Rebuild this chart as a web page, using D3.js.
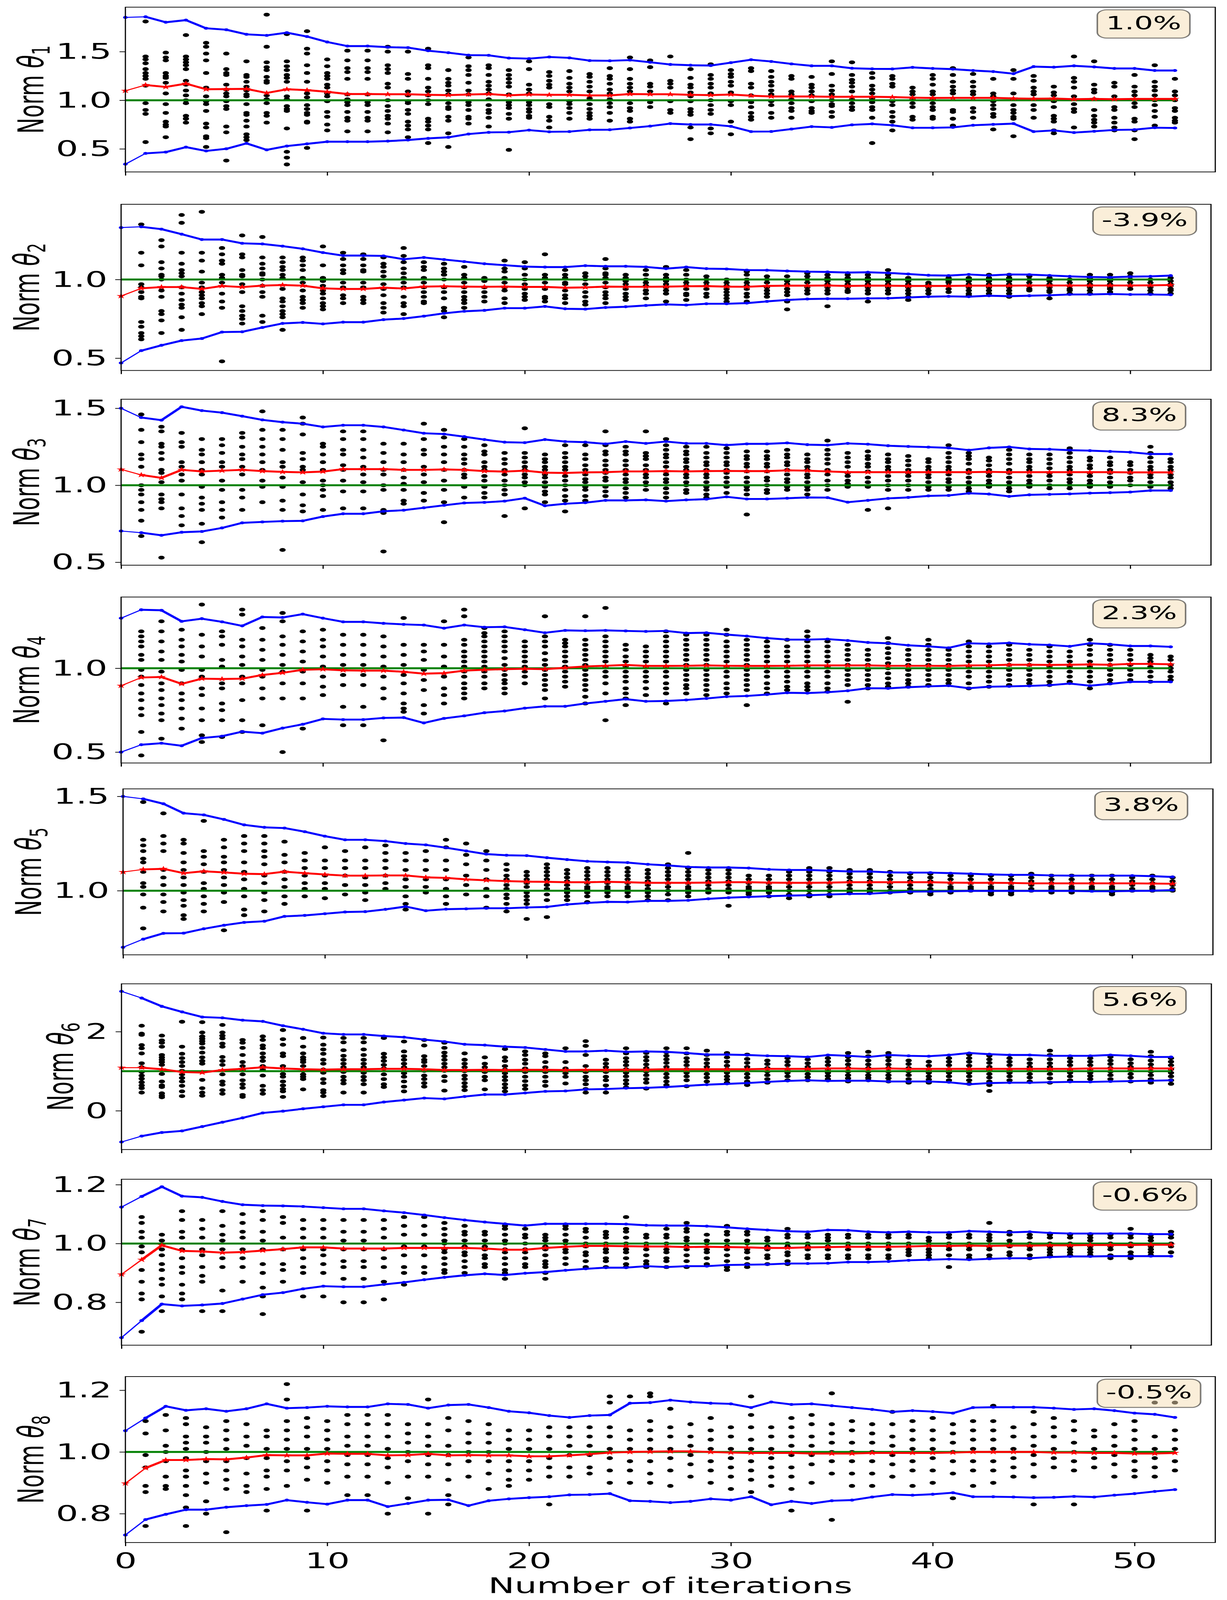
<!DOCTYPE html>
<html>
<head>
<meta charset="utf-8">
<script src="https://cdn.jsdelivr.net/npm/d3@7"></script>
<style>
  html, body { margin: 0; background: #fff; overflow: hidden; }
  svg { display: block; width: 100vw; height: 100vh; }
</style>
</head>
<body>
<svg id="canvas"></svg>
<script>
'use strict';

/* x categories: iteration number of every band point (dots start at 1) */
const iterations = d3.range(0, 53);
const xTicks = [0, 10, 20, 30, 40, 50];
const xTitle = 'Number of iterations';
const badgeLabels = ['1.0%', '-3.9%', '8.3%', '2.3%', '3.8%', '5.6%', '-0.6%', '-0.5%'];
const yTicks = [[0.5, 1.0, 1.5], [0.5, 1.0], [0.5, 1.0, 1.5], [0.5, 1.0], [1.0, 1.5], [0, 2], [0.8, 1.0, 1.2], [0.8, 1.0, 1.2]];
const yFormats = ['.1f', '.1f', '.1f', '.1f', '.1f', 'd', '.1f', '.1f'];

/* theta 1 */
const upper1 = [1.852,1.858,1.802,1.824,1.740,1.725,1.678,1.667,1.695,1.655,1.599,1.557,1.557,1.546,1.541,1.509,1.489,1.464,1.462,1.434,1.428,1.445,1.436,1.408,1.406,1.413,1.391,1.368,1.360,1.357,1.387,1.417,1.399,1.374,1.354,1.354,1.329,1.323,1.322,1.338,1.327,1.320,1.306,1.295,1.273,1.346,1.340,1.354,1.343,1.327,1.327,1.306,1.306];
const lower1 = [0.343,0.454,0.467,0.518,0.479,0.501,0.557,0.490,0.529,0.552,0.574,0.574,0.574,0.580,0.591,0.608,0.619,0.653,0.670,0.672,0.693,0.676,0.678,0.696,0.697,0.715,0.734,0.760,0.751,0.751,0.732,0.678,0.679,0.704,0.729,0.721,0.747,0.757,0.743,0.717,0.717,0.721,0.743,0.752,0.760,0.678,0.690,0.668,0.681,0.695,0.698,0.718,0.715];
const mean1 = [1.098,1.157,1.137,1.171,1.113,1.115,1.117,1.075,1.113,1.104,1.087,1.064,1.064,1.062,1.062,1.056,1.053,1.059,1.064,1.051,1.059,1.056,1.056,1.050,1.050,1.064,1.062,1.062,1.056,1.053,1.059,1.047,1.039,1.039,1.039,1.036,1.036,1.036,1.033,1.027,1.024,1.025,1.025,1.025,1.019,1.016,1.018,1.011,1.014,1.011,1.014,1.014,1.014];
// samples per iteration 1..52, in hundredths
const dots1 = [
  [181,145,142,138,132,128,125,122,115,97,90,86,57],[149,144,141,128,125,123,118,107,96,87,78,75,73,62],
  [167,145,142,139,136,132,120,116,110,105,100,97,84,81,77],[159,155,148,141,128,113,104,99,96,89,76,72,63,61,52],
  [148,132,128,126,116,111,107,104,99,94,91,73,67,38],[140,126,124,119,114,110,106,104,96,87,85,79,73,65,62,59],
  [188,155,139,134,131,124,120,118,105,101,97,87,84,77],[168,140,135,131,126,123,119,104,101,94,91,89,71,47,41,34],
  [171,153,148,136,128,119,107,103,95,91,87,85,78,77,51],[142,135,128,125,122,116,113,107,104,99,88,83,75,69],
  [151,141,133,129,122,106,101,98,95,88,82,79,68],[151,141,133,129,122,106,98,95,88,82,79,68],
  [155,150,136,132,128,117,113,100,94,89,84,81,76,67],[150,127,122,109,105,99,97,90,86,78,74,70,62],
  [153,136,133,122,113,109,105,100,96,81,78,74,70,56],[131,122,118,115,110,106,97,93,91,83,79,66,52],
  [144,135,131,126,118,110,106,98,95,90,83,81,76],[136,133,126,119,115,111,107,101,95,90,87,82,73],
  [131,126,122,118,114,106,98,95,92,86,81,49],[140,132,116,111,107,98,95,91,88,84,82],
  [129,125,120,116,113,96,93,83,79,72],[130,123,117,113,109,99,96,92,87,81],
  [127,124,119,114,109,102,96,91,87,84,81],[133,125,122,117,111,107,101,97,93,87,79],
  [144,132,122,117,113,109,97,92,89,81,78],[141,134,117,114,109,98,93],
  [145,120,117,113,99,90,87],[132,123,116,113,108,104,99,91,88,85,72,60],
  [137,126,122,117,113,107,100,95,90,86,71,66],[131,127,124,119,115,108,99,95,78,65],
  [133,130,117,113,105,98,93,87,83,80],[130,124,119,115,110,106,99,95,87,82],
  [125,122,109,106,101,97,92,89,82],[124,116,113,109,105,99,92,89,87],
  [140,127,115,110,106,100,96,94,88,83],[139,126,121,118,114,109,101,97,93,90],
  [128,123,115,111,107,102,98,93,90,82,56],[125,122,117,114,99,95,88,83,78,69],
  [113,109,106,101,97,93,83,80],[126,122,116,109,106,101,97,93,90,83,81],
  [133,126,119,114,110,107,90,88,81,74],[127,119,114,109,106,92,88,82],
  [122,107,104,99,95,91,86,83,70],[131,122,107,101,95,90,87,83,81,63],
  [125,120,113,109,106,101,95,90,82],[114,108,105,99,93,84,81,78,69,66],
  [145,123,119,113,104,96,91,88,72],[140,116,111,108,101,90,84,80,77,73],
  [118,114,104,93,90,82,77,72,69],[126,114,109,105,97,93,81,78,69,60],
  [136,119,114,110,105,100,95,89,83,74],[122,109,105,100,92,89,82,79,77]
];

/* theta 2 */
const upper2 = [1.330,1.335,1.320,1.288,1.254,1.254,1.230,1.226,1.212,1.195,1.171,1.152,1.152,1.150,1.129,1.140,1.127,1.114,1.100,1.091,1.082,1.079,1.079,1.088,1.084,1.084,1.080,1.069,1.079,1.069,1.067,1.060,1.059,1.054,1.050,1.048,1.044,1.046,1.042,1.035,1.027,1.025,1.032,1.026,1.032,1.031,1.026,1.020,1.016,1.014,1.018,1.020,1.025];
const lower2 = [0.470,0.548,0.582,0.612,0.625,0.666,0.668,0.695,0.721,0.727,0.718,0.729,0.729,0.745,0.752,0.767,0.785,0.798,0.804,0.818,0.818,0.829,0.814,0.812,0.822,0.827,0.835,0.842,0.838,0.846,0.846,0.850,0.861,0.870,0.876,0.878,0.878,0.880,0.881,0.886,0.891,0.893,0.891,0.897,0.894,0.897,0.900,0.905,0.905,0.908,0.905,0.905,0.903];
const mean2 = [0.895,0.944,0.952,0.952,0.940,0.959,0.952,0.961,0.965,0.961,0.944,0.940,0.940,0.948,0.943,0.955,0.957,0.955,0.954,0.955,0.953,0.953,0.948,0.950,0.955,0.954,0.954,0.955,0.957,0.958,0.955,0.954,0.959,0.961,0.961,0.962,0.959,0.961,0.961,0.959,0.959,0.959,0.961,0.961,0.961,0.962,0.962,0.962,0.962,0.962,0.962,0.963,0.965];
const dots2 = [
  [135,117,109,97,95,92,89,88,73,70,66,64,62],[125,121,111,107,103,102,100,93,89,80,78,74,66],
  [141,136,117,110,106,104,102,95,91,87,84,82,76,68],[143,117,112,105,98,95,92,90,88,85,83,78],
  [120,116,112,110,103,101,98,91,86,82,48],[128,116,114,106,103,102,97,92,83,80,77,75,72],
  [127,114,110,107,104,103,100,96,92,89,77,73],[114,111,108,106,103,101,94,88,86,83,80,78,76,68],
  [114,112,109,106,101,98,93,89,87,85,82],[121,109,101,99,96,93,91,88,85,83,81],
  [117,113,109,106,104,98,95,90,88,85],[116,113,109,106,105,98,95,89,87,85],
  [114,110,108,105,102,97,94,90,85,82,79],[120,115,111,107,104,101,98,95,89,85,83,78],
  [111,108,106,101,98,95,92,89,86,85],[110,107,105,103,100,95,92,88,82,80,76],
  [108,103,101,98,95,92,89,87,85,82],[101,99,95,92,89,86],
  [112,107,105,101,98,95,93,88,85],[111,107,103,100,97,94,91,89,87],
  [116,103,101,98,94,89,88,86],[106,103,101,98,97,93,90,88,85],
  [104,102,100,97,92,89,86,84],[113,107,104,103,101,98,95,92,90,88,85],
  [103,101,99,97,94,91,89,87],[106,103,100,98,96,93,91,88],
  [108,103,101,99,97,95,93,91,86],[106,103,100,98,96,94,91,90,87],
  [102,100,98,96,94,91,89],[100,98,96,94,92,90,88,86],
  [105,103,100,98,96,94,91,89,86],[102,100,98,95,93,91,89],
  [102,99,97,94,92,90,86,81],[104,102,100,98,95,93,91],
  [103,101,99,97,95,93,91,83],[103,101,99,97,95,93,92],
  [103,101,99,97,95,93,91,86],[106,103,101,99,97,95,93,91],
  [101,99,97,95,93,91,89,87],[98,97,95,93,91],
  [101,99,98,96,94,92],[101,99,97,95,93,91,90],
  [103,101,99,97,95,93,91],[103,101,99,97,95,93,91,89],
  [102,100,98,96,94,93],[101,99,97,95,93,92,88],
  [100,98,96,94,93,91],[103,101,99,97,95,93,91],
  [103,101,99,97,95,94,92],[104,102,100,98,96,94],
  [100,98,96,95,93,91],[101,99,97,96,94,93,91]
];

/* theta 3 */
const upper3 = [1.500,1.440,1.423,1.510,1.485,1.472,1.449,1.425,1.410,1.400,1.379,1.390,1.390,1.379,1.359,1.338,1.333,1.316,1.297,1.280,1.277,1.297,1.284,1.280,1.269,1.284,1.272,1.284,1.272,1.272,1.261,1.269,1.269,1.275,1.264,1.261,1.272,1.267,1.257,1.252,1.248,1.243,1.228,1.243,1.249,1.236,1.234,1.228,1.225,1.220,1.215,1.203,1.203];
const lower3 = [0.703,0.692,0.675,0.695,0.700,0.723,0.756,0.762,0.767,0.769,0.797,0.815,0.815,0.831,0.838,0.854,0.870,0.885,0.889,0.897,0.916,0.867,0.880,0.887,0.902,0.902,0.905,0.897,0.905,0.910,0.925,0.911,0.911,0.916,0.921,0.920,0.890,0.902,0.915,0.921,0.931,0.934,0.948,0.943,0.928,0.938,0.941,0.944,0.949,0.952,0.956,0.966,0.966];
const mean3 = [1.103,1.067,1.048,1.100,1.090,1.095,1.100,1.092,1.087,1.084,1.089,1.105,1.105,1.105,1.100,1.100,1.103,1.100,1.092,1.089,1.095,1.082,1.080,1.084,1.085,1.090,1.090,1.092,1.090,1.092,1.093,1.092,1.092,1.097,1.095,1.090,1.085,1.085,1.085,1.085,1.085,1.085,1.085,1.087,1.085,1.085,1.085,1.085,1.085,1.085,1.084,1.084,1.084];
const dots3 = [
  [146,136,128,120,117,112,100,97,94,89,84,77,67],[138,135,127,125,121,117,110,108,102,94,91,89,85,53],
  [134,128,125,115,112,107,103,94,85,80,74],[130,123,120,115,110,107,99,92,88,84,75,63],
  [130,126,121,115,112,103,97,89,84,79],[134,131,125,120,117,112,107,97,92,84],
  [148,136,130,125,120,115,110,103,99,89],[136,130,123,115,112,105,99,90,84,58],
  [144,140,133,121,117,112,110,102,94,87,83],[127,125,120,115,110,103,100,97,93,84],
  [135,130,123,120,113,110,103,96,85],[135,130,123,118,112,107,102,96,85],
  [127,121,115,110,107,100,97,84,82,57],[127,120,115,110,105,101,97,90,88],
  [140,130,123,120,112,107,102,95,90],[136,131,125,120,115,110,103,97,89,76],
  [130,125,120,117,114,110,107,105,99,92],[126,122,120,115,112,110,106,103,99,95,92],
  [121,117,114,110,107,103,100,97,94,80],[137,121,118,115,112,110,107,105,102,100,85],
  [120,117,115,112,110,107,105,102,99,96,94,89],[126,121,118,115,112,110,106,103,100,97,93,90,83],
  [126,120,117,113,110,107,104,102,99,97,93,90],[135,126,122,120,116,113,110,108,105,103,99,96,93],
  [125,122,120,116,113,110,107,104,102,98,95,92],[135,121,119,117,113,110,107,105,102,100,97],
  [130,126,123,120,118,115,112,109,107,104,102,98,95,92],[125,122,120,117,115,112,110,107,105,102,100,97,95],
  [125,121,118,115,113,110,107,105,102,99,97,94,92],[124,121,118,115,113,110,108,105,102,99,95],
  [122,119,117,114,112,109,105,102,99,97,94,81],[122,119,117,114,112,109,105,103,100,97,95],
  [123,120,118,115,113,110,107,104,102,99,97],[120,117,115,112,110,107,105,102,99,97,94],
  [129,123,120,117,114,110,107,103,100,97],[121,118,115,112,108,106,103,101,99],
  [122,119,117,114,112,109,105,102,99,84],[120,117,115,112,110,106,103,100,97,85],
  [119,116,113,110,108,106,103,100,97],[117,115,112,110,107,105,102,99,97],
  [126,121,118,115,112,110,107,104,102,99,97],[121,119,117,114,110,108,105,102,100,98,96],
  [118,116,113,110,108,106,103,101,99],[123,120,117,114,110,108,105,102,100,98,96],
  [120,117,115,112,110,106,103,101,99],[120,117,114,111,108,106,103,100,98],
  [124,121,118,115,112,110,107,104,102,100,98],[118,116,113,111,108,106,103,101,99],
  [118,115,113,110,108,105,102,100,99],[115,113,110,108,105,103,100],
  [125,121,118,115,112,110,107,105,102,99],[117,115,112,110,107,105,102,100,98]
];

/* theta 4 */
const upper4 = [1.299,1.349,1.346,1.280,1.296,1.277,1.253,1.306,1.303,1.323,1.299,1.277,1.277,1.268,1.262,1.258,1.239,1.258,1.245,1.247,1.230,1.212,1.226,1.224,1.226,1.223,1.220,1.223,1.210,1.212,1.201,1.192,1.180,1.171,1.171,1.174,1.166,1.154,1.149,1.137,1.131,1.122,1.149,1.146,1.151,1.143,1.139,1.131,1.149,1.143,1.133,1.133,1.128];
const lower4 = [0.500,0.544,0.553,0.538,0.584,0.595,0.622,0.613,0.643,0.666,0.698,0.694,0.694,0.704,0.706,0.674,0.701,0.716,0.735,0.745,0.762,0.773,0.773,0.790,0.803,0.816,0.803,0.805,0.811,0.820,0.831,0.835,0.843,0.854,0.852,0.857,0.866,0.881,0.880,0.887,0.892,0.896,0.881,0.890,0.892,0.895,0.899,0.909,0.896,0.907,0.919,0.919,0.919];
const mean4 = [0.896,0.945,0.948,0.907,0.938,0.936,0.938,0.960,0.973,0.991,0.994,0.988,0.986,0.986,0.979,0.968,0.971,0.986,0.991,0.995,0.997,0.995,1.003,1.011,1.015,1.020,1.014,1.014,1.015,1.017,1.015,1.014,1.014,1.015,1.017,1.017,1.017,1.017,1.015,1.015,1.015,1.014,1.017,1.018,1.021,1.021,1.020,1.021,1.023,1.021,1.026,1.026,1.024];
const dots4 = [
  [122,119,116,113,108,105,99,95,90,85,81,76,72,62,48],[128,122,116,110,105,98,91,87,82,78,73,69,58],
  [123,117,113,108,104,99,91,85,81,76,70,64],[138,120,113,107,99,95,88,84,76,69,60,56],
  [122,119,114,105,101,91,88,79,75,69,59],[135,132,117,113,107,102,95,91,81,69,62],
  [124,117,111,105,99,95,88,82,66],[133,128,119,114,108,102,98,91,82,50],
  [122,116,110,104,98,91,82,64],[123,117,113,107,101,95,89,84],
  [120,114,108,102,96,90,77,66],[120,114,108,102,96,90,77,66],
  [119,113,107,101,95,88,82,57],[130,114,108,102,96,91,85,79,76,74],
  [114,110,105,99,93,87,78,73],[128,114,107,101,95,88,84,79],
  [135,131,117,114,110,107,104,101,98,95,91,88,85,82],[124,121,119,116,113,110,107,104,101,98,95,91,88],
  [122,119,116,113,110,106,102,99,96,93,91,88,85],[116,113,110,107,104,101,98,95,91],
  [131,119,116,113,109,105,102,99,96,93,90,87,82],[117,115,113,110,107,104,101,98,95,92,89],
  [131,117,114,111,108,105,102,99,96,93,90,87,83,79],[136,119,116,113,110,107,104,101,98,95,91,85,69],
  [114,111,107,104,101,98,95,92,88,85,82,78],[113,110,107,104,101,98,95,92,88,84],
  [122,119,116,113,110,107,104,101,98,95,91,88,85,79],[120,117,114,111,108,105,102,99,96,93,90,88,85],
  [120,117,114,111,108,105,102,99,96,93,90,87,84],[123,120,116,113,110,107,104,101,98,95,91,88,85],
  [117,114,111,108,105,102,99,96,93,90,87,78],[116,113,110,107,104,101,98,95,91,88,85],
  [117,113,110,107,104,101,98,95,92,89,87],[122,119,116,113,110,107,104,101,98,95,91,89,87],
  [116,113,110,107,104,101,98,95,91,88,86],[114,111,108,105,102,99,96,93,90,80],
  [111,108,105,102,99,96,93,90,88],[118,115,112,109,106,103,100,97,94,91,89],
  [111,108,105,102,99,96,93,91,89],[117,114,111,108,105,102,99,96,93,90],
  [111,108,105,102,99,96,93,91],[116,113,110,107,104,101,98,95,91,88],
  [113,110,107,104,101,98,95,92,89],[114,111,108,105,102,99,96,93,90],
  [111,108,105,102,99,96,93,91],[113,110,107,104,101,98,95,92,90],
  [110,107,104,101,98,95,92],[117,114,111,108,104,101,98,95,92,88],
  [114,111,108,105,102,99,96,93,91],[111,108,105,102,99,96,93],
  [108,106,104,101,98,95,92],[107,105,102,100,98,95,93]
];

/* theta 5 */
const upper5 = [1.500,1.487,1.461,1.411,1.402,1.378,1.349,1.336,1.332,1.313,1.289,1.270,1.270,1.263,1.250,1.243,1.228,1.211,1.194,1.188,1.186,1.175,1.165,1.156,1.152,1.149,1.140,1.134,1.126,1.123,1.123,1.120,1.113,1.110,1.110,1.106,1.102,1.102,1.097,1.096,1.096,1.093,1.090,1.086,1.084,1.084,1.081,1.080,1.080,1.080,1.080,1.077,1.073];
const lower5 = [0.700,0.743,0.774,0.775,0.798,0.817,0.832,0.838,0.864,0.869,0.878,0.887,0.889,0.901,0.916,0.894,0.902,0.904,0.907,0.907,0.911,0.914,0.927,0.935,0.941,0.940,0.946,0.946,0.949,0.957,0.963,0.967,0.971,0.974,0.976,0.980,0.983,0.984,0.990,0.995,0.996,0.997,0.999,0.999,0.999,0.999,0.999,0.999,0.997,0.997,0.999,1.000,1.003];
const mean5 = [1.099,1.113,1.116,1.093,1.103,1.097,1.090,1.088,1.101,1.093,1.086,1.080,1.080,1.081,1.081,1.071,1.068,1.060,1.055,1.051,1.048,1.047,1.045,1.045,1.047,1.045,1.042,1.042,1.042,1.043,1.045,1.045,1.043,1.042,1.042,1.043,1.045,1.045,1.045,1.045,1.045,1.043,1.042,1.042,1.041,1.039,1.039,1.039,1.039,1.039,1.039,1.038,1.037];
const dots5 = [
  [147,127,124,121,117,115,110,104,102,98,91,80],[141,129,125,121,111,107,103,98,94,89],
  [127,125,120,115,111,107,103,99,95,92,87,85],[137,121,118,114,110,104,101,97,93,89],
  [127,123,118,115,111,107,103,99,94,79],[129,125,121,115,110,106,101,97,90,87],
  [129,125,121,118,114,108,104,99,95,89],[126,119,115,110,106,102,97,93],
  [120,116,112,108,104,101,97],[123,116,112,108,104,101,96],
  [121,116,112,108,103,98],[123,116,112,107,103,99,95],
  [124,120,116,112,108,104,101],[120,116,111,106,102,97,93,90],
  [121,116,111,106,102,99],[127,123,116,111,106,101,97,93],
  [125,119,114,108,103,98],[121,116,111,106,101,97,91],
  [114,111,108,106,103,101,98,96,93,89],[110,108,106,104,102,99,97,95,93,85],
  [114,112,110,108,106,103,101,98,95,86],[111,109,107,105,103,101,99,97,95],
  [112,110,108,106,104,102,101,99,97,94],[112,110,108,106,104,102,101,99,97],
  [112,110,108,106,104,102,101,99,97],[111,109,107,105,103,101,99,97,95],
  [114,112,110,108,106,104,102,100,98,95],[120,112,110,108,106,104,102,101,99,97],
  [111,109,107,105,103,101,99],[111,109,107,105,103,101,99,92],
  [108,106,104,102,101,99,98],[108,106,104,102,101,99,97],
  [110,108,106,104,102,100,98,96],[112,110,108,106,104,102,100,98,97],
  [112,110,108,106,104,102,100,98,97],[111,109,107,105,103,101,99],
  [111,109,107,105,103,101,99],[110,108,106,104,102,100,99],
  [109,107,105,103,101,99],[109,107,105,103,101,99,98],
  [108,106,104,102,101,99],[108,106,104,102,101,100],
  [108,106,104,102,101,99,98],[108,106,104,102,101,99,98],
  [109,107,105,103,101,100],[108,106,104,102,101,99],
  [108,106,104,102,101,99],[108,106,104,102,101,100],
  [108,106,104,102,101,99,98],[107,105,103,101,100],
  [108,106,104,102,101,100],[107,105,103,101,100]
];

/* theta 6 */
const upper6 = [3.02,2.85,2.64,2.50,2.37,2.35,2.29,2.26,2.15,2.06,1.96,1.93,1.93,1.89,1.86,1.80,1.75,1.68,1.66,1.62,1.60,1.55,1.50,1.50,1.52,1.49,1.50,1.49,1.46,1.42,1.42,1.41,1.39,1.38,1.36,1.41,1.39,1.36,1.41,1.39,1.38,1.41,1.46,1.43,1.41,1.41,1.39,1.39,1.39,1.41,1.39,1.36,1.36];
const lower6 = [-0.79,-0.64,-0.55,-0.51,-0.40,-0.29,-0.18,-0.055,-0.01,0.05,0.10,0.15,0.15,0.22,0.27,0.32,0.30,0.36,0.41,0.41,0.45,0.49,0.50,0.54,0.55,0.57,0.58,0.60,0.63,0.66,0.68,0.70,0.73,0.755,0.77,0.755,0.76,0.76,0.74,0.74,0.74,0.72,0.67,0.70,0.71,0.71,0.72,0.73,0.73,0.74,0.75,0.76,0.77];
const mean6 = [1.09,1.09,1.05,0.98,0.965,1.03,1.06,1.10,1.07,1.05,1.04,1.05,1.05,1.06,1.06,1.05,1.03,1.03,1.035,1.03,1.035,1.035,1.03,1.035,1.035,1.04,1.04,1.05,1.05,1.05,1.05,1.05,1.06,1.06,1.06,1.07,1.07,1.06,1.07,1.06,1.06,1.06,1.06,1.06,1.06,1.06,1.06,1.06,1.07,1.07,1.07,1.07,1.07];
const dots6 = [
  [215,195,192,166,158,145,120,110,98,89,81,72,64,57,46],[190,178,172,162,141,135,129,123,116,93,74,64,60,44,38,34],
  [225,162,144,133,123,113,101,92,83,74,63,49,37],[224,198,188,182,176,170,159,147,135,126,119,98,78,57,46,38],
  [217,198,190,183,170,162,136,126,116,92,74,66,52,43],[179,172,159,141,123,113,104,92,77,67,58,40,35],
  [188,179,165,158,145,135,126,113,104,89,63,52,43],[204,181,167,145,138,113,93,86,74,64,55,49,35],
  [184,162,145,135,129,123,113,101,92,86,80,54],[185,167,155,144,129,119,104,96,80,70,52,46,37],
  [184,173,153,139,129,119,110,98,86,77,69,46],[184,173,155,141,129,119,110,96,86,77,67,46],
  [184,144,135,126,116,107,92,80,67,60],[175,150,138,129,119,110,95,86,74,61,49],
  [179,165,138,129,123,113,101,89,80,70,61],[172,159,147,138,129,119,110,101,87,75,51],
  [145,129,119,110,100,89,80,70,61,52],[135,119,110,98,86,77,54],
  [156,135,126,113,104,95,86,77,67,58,49],[150,141,129,119,107,98,86,75,64,55],
  [145,138,123,110,98,86,74,63],[158,123,107,95,86,69],
  [176,164,141,113,98,86,77,67,55,46],[129,119,110,98,86,77,64,46],
  [158,145,133,124,115,105,96,87,77,68,59],[146,136,127,117,108,99,90,80,71,56],
  [158,148,139,130,121,111,102,93,84,74,65],[158,145,133,124,115,105,96,87,77,62],
  [152,141,130,120,111,102,93,84,74],[146,135,124,114,105,96,87,79,71],
  [142,131,121,111,102,93,84,74,65],[127,118,108,99,90,80,71],
  [133,124,115,105,96,87,77],[130,120,111,102,93,85,77],
  [133,124,115,105,96,88,80],[146,136,127,117,108,99,90,82,74],
  [149,138,127,117,108,99,90,83,77],[146,136,127,117,108,99,90,82,74],
  [127,118,108,99,90,80,71],[124,114,105,96,87,79,71],
  [133,124,115,105,96,87,77],[142,133,124,114,105,96,87,77,68],
  [139,130,121,111,102,93,84,74,65,50],[133,124,115,105,96,87,77],
  [130,120,111,102,93,84,74],[152,141,130,120,111,102,93,82,71],
  [133,124,115,105,96,87,77],[133,124,115,105,96,88,80],
  [136,127,118,108,99,90,80],[130,120,111,102,93,84,74],
  [149,138,127,117,108,99,90,80,71],[133,124,115,105,96,87,77,68]
];

/* theta 7 */
const upper7 = [1.124,1.160,1.193,1.161,1.157,1.143,1.132,1.129,1.128,1.126,1.122,1.118,1.118,1.111,1.105,1.097,1.088,1.080,1.073,1.067,1.061,1.067,1.067,1.067,1.067,1.066,1.062,1.061,1.061,1.059,1.055,1.050,1.046,1.042,1.040,1.046,1.045,1.040,1.038,1.040,1.038,1.038,1.042,1.040,1.038,1.040,1.036,1.034,1.034,1.034,1.034,1.032,1.032];
const lower7 = [0.680,0.738,0.794,0.788,0.791,0.796,0.811,0.826,0.833,0.846,0.855,0.853,0.853,0.861,0.868,0.877,0.885,0.892,0.897,0.893,0.899,0.903,0.909,0.914,0.918,0.918,0.923,0.920,0.923,0.923,0.927,0.928,0.929,0.932,0.932,0.933,0.937,0.937,0.939,0.943,0.945,0.947,0.945,0.948,0.950,0.950,0.954,0.956,0.956,0.957,0.957,0.957,0.957];
const mean7 = [0.895,0.945,0.994,0.975,0.973,0.969,0.971,0.976,0.981,0.987,0.987,0.983,0.983,0.983,0.985,0.985,0.985,0.985,0.983,0.979,0.979,0.985,0.989,0.992,0.992,0.991,0.990,0.990,0.988,0.989,0.988,0.987,0.985,0.985,0.987,0.988,0.989,0.989,0.989,0.990,0.992,0.992,0.993,0.992,0.993,0.993,0.994,0.994,0.995,0.995,0.995,0.996,0.996];
const dots7 = [
  [109,107,104,102,99,97,91,87,83,81,70],[103,101,98,96,93,91,88,86,82,77],
  [111,108,104,102,98,95,92,90,86,83,81],[108,105,102,98,96,92,89,87,77],
  [111,106,103,101,98,95,92,84,77],[110,107,104,102,98,95,92,87],
  [111,108,104,101,98,93,90,85,82,76],[109,107,102,98,93,91,87],
  [108,105,102,98,95,92,90,82],[108,105,102,98,96,93,90,82],
  [108,104,101,98,94,92,88,80],[108,104,101,98,94,92,88,80],
  [108,105,102,98,95,92,87,81],[109,106,103,99,96,92,90,86],
  [109,106,103,99,96,92,90],[107,105,103,101,100,98,97,95,93,91,90],
  [106,104,103,101,99,97,96,94,92,90],[104,103,101,99,98,96,95,93,92],
  [106,105,103,101,100,98,97,95,93,91,90,88],[105,103,102,100,98,97,95,93,92],
  [103,102,101,99,98,96,94,93,92,90,88],[106,105,103,101,100,98,97,95,93],
  [105,104,102,100,99,97,96,94,92],[104,103,102,100,98,97,95,94,92],
  [109,105,104,102,100,98,97,95,93,92],[103,102,100,99,98,96,94,93,92],
  [105,103,102,100,98,97,95,94,92],[107,105,104,102,101,99,98,96,94,92],
  [103,101,100,98,97,95,93],[106,104,103,101,99,98,96,94,92,91],
  [104,103,101,100,98,97,95,93,92],[102,101,99,98,96,95,93],
  [105,103,102,100,99,97,96,94,93],[103,102,100,99,98,96,95],
  [103,102,101,99,98,96,95],[103,102,100,99,98,96,95],
  [103,102,100,99,98,96,95],[103,102,100,99,98,96,95],
  [103,102,100,99,98,97,96],[102,101,100,98,97,96,95],
  [103,102,100,99,98,96,92],[103,102,100,99,98,96,95],
  [107,103,102,101,99,98,96,95],[104,103,101,100,99,97,96],
  [103,102,100,99,98,96,95],[103,102,100,99,98,97,96],
  [103,102,100,99,98,97,96],[103,102,101,99,98,97,96],
  [103,102,100,99,98,96,95],[105,103,102,100,99,97,96,95],
  [103,102,101,99,98,97,96],[104,103,102,100,99,97,97]
];

/* theta 8 */
const upper8 = [1.069,1.110,1.148,1.135,1.140,1.132,1.140,1.156,1.142,1.144,1.148,1.146,1.146,1.156,1.154,1.142,1.152,1.154,1.144,1.132,1.127,1.118,1.112,1.118,1.120,1.158,1.160,1.168,1.162,1.158,1.156,1.144,1.162,1.154,1.156,1.150,1.144,1.138,1.130,1.134,1.131,1.126,1.144,1.145,1.145,1.145,1.142,1.138,1.140,1.134,1.126,1.122,1.112];
const lower8 = [0.731,0.781,0.798,0.813,0.813,0.821,0.826,0.830,0.844,0.837,0.831,0.844,0.844,0.823,0.833,0.844,0.845,0.826,0.842,0.848,0.852,0.855,0.861,0.862,0.865,0.842,0.840,0.836,0.840,0.848,0.844,0.855,0.829,0.840,0.833,0.842,0.844,0.854,0.862,0.860,0.863,0.868,0.855,0.855,0.854,0.852,0.853,0.856,0.854,0.860,0.865,0.872,0.878];
const mean8 = [0.898,0.948,0.974,0.974,0.977,0.976,0.982,0.990,0.989,0.989,0.995,0.994,0.994,0.989,0.990,0.994,0.989,0.990,0.989,0.989,0.986,0.986,0.989,0.993,0.998,1.000,1.001,1.002,1.002,1.000,0.998,0.997,0.997,0.997,0.995,0.995,0.995,0.997,0.997,0.997,0.997,0.998,1.000,1.000,1.000,1.000,0.998,0.998,0.997,0.997,0.995,0.995,0.997];
const dots8 = [
  [110,106,99,95,89,87,76],[112,107,102,100,97,92,89,88],
  [111,109,105,103,101,98,94,92,89,86,82,76],[108,105,103,100,97,93,90,84,80],
  [110,107,104,101,97,94,91,88,74],[109,105,102,98,93,89,87],
  [107,105,101,98,94,92,88,81],[122,117,110,107,104,101,97,94,89],
  [111,108,105,101,98,95,91,81],[110,107,104,101,97,94,90],
  [112,109,105,102,99,96,92,86],[112,109,105,102,99,96,92,86],
  [112,109,105,101,98,95,90,80],[109,106,103,100,97,92,85],
  [117,109,105,102,99,96,92,80],[111,107,102,99,96,91,86,83],
  [110,106,103,100,97,92],[109,106,103,100,97,93,88],
  [107,104,101,97,94,91,89],[107,104,101,97,94,91],
  [108,105,101,98,95,92,83],[108,105,102,99,95,92],
  [108,105,102,99,95,93],[118,116,108,105,101,98,94,90],
  [118,107,104,101,97,94,90],[119,118,110,107,104,101,97,93,90],
  [114,108,105,101,98,94,89],[109,105,102,99,96,92],
  [111,107,104,101,97,94,90],[108,105,101,98,95,92,88],
  [118,112,108,104,101,97,94,91,87],[108,105,101,98,95,92,89],
  [111,108,105,102,99,95,92,88,81],[112,109,105,102,99,96,90],
  [119,109,106,103,100,97,93,78],[110,107,103,100,97,93,89],
  [109,106,103,100,97,93,89],[113,109,105,102,99,96,92],
  [110,107,104,101,97,94,89],[111,107,104,101,98,94,90],
  [109,106,103,100,97,93,85],[110,107,104,101,97,94,89],
  [115,110,107,104,101,97,94,90],[108,105,101,98,95,92],
  [113,109,105,102,99,96,92,83],[111,108,105,101,98,95],
  [110,107,103,100,97,94,83],[107,105,101,98,95],
  [109,105,102,99,96,92],[110,107,104,101,97,94,92],
  [116,105,101,98,95,92],[116,107,104,101,97,94]
];

const panels = [
  { upper: upper1, lower: lower1, mean: mean1, dots: dots1 },
  { upper: upper2, lower: lower2, mean: mean2, dots: dots2 },
  { upper: upper3, lower: lower3, mean: mean3, dots: dots3 },
  { upper: upper4, lower: lower4, mean: mean4, dots: dots4 },
  { upper: upper5, lower: lower5, mean: mean5, dots: dots5 },
  { upper: upper6, lower: lower6, mean: mean6, dots: dots6 },
  { upper: upper7, lower: lower7, mean: mean7, dots: dots7 },
  { upper: upper8, lower: lower8, mean: mean8, dots: dots8 }
];

/* layout of the eight axes frames, in the 3141 x 6681 drawing space */
const WIDTH = 3141, HEIGHT = 6681;
const FONT = 'DejaVu Sans';
const plotWidth = 2790;
const frames = [
  { left: 321, top: 30, bottom: 718 },
  { left: 310, top: 853, bottom: 1547 },
  { left: 310, top: 1667, bottom: 2360 },
  { left: 310, top: 2493, bottom: 3186 },
  { left: 315, top: 3294, bottom: 3987 },
  { left: 311, top: 4108, bottom: 4800 },
  { left: 311, top: 4924, bottom: 5617 },
  { left: 321, top: 5748, bottom: 6441 }
];

// the drawing space is mapped onto the whole window, so the full figure
// stays visible even when the window comes out shorter than asked for
const svg = d3.select('#canvas')
  .attr('viewBox', '0 0 ' + WIDTH + ' ' + HEIGHT)
  .attr('preserveAspectRatio', 'none')
  .attr('font-family', FONT);
svg.append('rect').attr('width', WIDTH).attr('height', HEIGHT).attr('fill', '#fff');

panels.forEach((p, k) => drawPanel(p, k));

function drawPanel(p, k){
  const f = frames[k];
  const last = k === panels.length - 1;
  const x = d3.scaleLinear().domain([0, 54]).range([f.left, f.left + plotWidth]);

  // matplotlib style autoscale: data extent plus 5% on each side
  const values = p.upper.concat(p.lower, p.mean, p.dots.flat().map(v => v / 100));
  const [vMin, vMax] = d3.extent(values);
  const pad = 0.05 * (vMax - vMin);
  const y = d3.scaleLinear().domain([vMin - pad, vMax + pad]).range([f.bottom, f.top]);

  const g = svg.append('g').attr('id', 'panel' + (k + 1));

  /* axes */
  const yAxis = d3.axisLeft(y)
    .tickValues(yTicks[k])
    .tickFormat(d3.format(yFormats[k]))
    .tickSize(15)
    .tickPadding(20);
  const ya = g.append('g').attr('transform', 'translate(' + f.left + ',0)').call(yAxis);

  const xAxis = d3.axisBottom(x)
    .tickValues(xTicks)
    .tickSize(15)
    .tickPadding(27)
    .tickFormat(last ? d3.format('d') : () => '');
  const xa = g.append('g').attr('transform', 'translate(0,' + f.bottom + ')').call(xAxis);

  [ya, xa].forEach(a => {
    a.select('.domain').remove();
    a.attr('font-size', 90).attr('font-family', FONT);
    a.selectAll('.tick line').attr('stroke', '#000').attr('stroke-width', 3);
    a.selectAll('.tick text').attr('fill', '#000');
  });

  /* samples */
  const pts = p.dots.flatMap((col, j) => col.map(v => ({ it: iterations[j + 1], v: v / 100 })));
  g.append('g')
    .selectAll('circle')
    .data(pts)
    .join('circle')
    .attr('cx', d => x(d.it))
    .attr('cy', d => y(d.v))
    .attr('r', 8)
    .attr('fill', '#000');

  /* reference value */
  g.append('line')
    .attr('x1', x(0)).attr('x2', x(52))
    .attr('y1', y(1)).attr('y2', y(1))
    .attr('stroke', 'green')
    .attr('stroke-width', 8);

  /* bands and mean */
  const line = d3.line().x(d => x(d[0])).y(d => y(d[1]));
  const series = [
    { vals: p.upper, color: 'blue', marker: 'dot' },
    { vals: p.lower, color: 'blue', marker: 'dot' },
    { vals: p.mean, color: 'red', marker: 'star' }
  ];
  series.forEach(s => {
    const pairs = iterations.map((it, i) => [it, s.vals[i]]);
    g.append('path').attr('d', line(pairs))
      .attr('fill', 'none').attr('stroke', s.color).attr('stroke-width', 4)
      .attr('stroke-linejoin', 'round');
    g.append('path').attr('d', line(pairs.slice(1)))
      .attr('fill', 'none').attr('stroke', s.color).attr('stroke-width', 8)
      .attr('stroke-linejoin', 'round');
    if (s.marker === 'dot') {
      g.append('g').selectAll('circle').data(pairs).join('circle')
        .attr('cx', d => x(d[0])).attr('cy', d => y(d[1])).attr('r', 6)
        .attr('fill', s.color);
    } else {
      const star = d3.symbol(d3.symbolStar).size(170);
      g.append('g').selectAll('path').data(pairs).join('path')
        .attr('d', star)
        .attr('transform', d => 'translate(' + x(d[0]) + ',' + y(d[1]) + ')')
        .attr('fill', s.color);
    }
  });

  /* frame */
  g.append('rect')
    .attr('x', f.left).attr('y', f.top)
    .attr('width', plotWidth).attr('height', f.bottom - f.top)
    .attr('fill', 'none').attr('stroke', '#000').attr('stroke-width', 3);

  /* percentage badge */
  const bx = f.left + 2488, by = f.top + 11;
  const badge = g.append('g');
  const box = badge.append('rect');
  const txt = badge.append('text')
    .attr('x', bx + 22).attr('y', by + 81)
    .attr('font-size', 76)
    .attr('fill', '#000')
    .text(badgeLabels[k]);
  const w = txt.node().getComputedTextLength();
  box.attr('x', bx).attr('y', by)
    .attr('width', w + 44).attr('height', 118)
    .attr('rx', 24).attr('ry', 24)
    .attr('fill', 'wheat').attr('fill-opacity', 0.5)
    .attr('stroke', '#000').attr('stroke-opacity', 0.5).attr('stroke-width', 4);

  /* y label, placed left of the widest tick label */
  const tickLeft = f.left + d3.min(ya.selectAll('.tick text').nodes(), n => n.getBBox().x);
  const label = g.append('text')
    .attr('transform', 'translate(' + (tickLeft - 32) + ',' + ((f.top + f.bottom) / 2) + ') rotate(-90)')
    .attr('text-anchor', 'middle')
    .attr('font-size', 90)
    .attr('fill', '#000');
  label.append('tspan').text('Norm ');
  label.append('tspan').attr('font-style', 'italic').text('\u03B8');
  label.append('tspan').attr('font-size', 63).attr('dy', 16).text(k + 1);

  if (last) {
    g.append('text')
      .attr('x', f.left + plotWidth / 2)
      .attr('y', 6651)
      .attr('text-anchor', 'middle')
      .attr('font-size', 90)
      .attr('fill', '#000')
      .text(xTitle);
  }
}
</script>
</body>
</html>
